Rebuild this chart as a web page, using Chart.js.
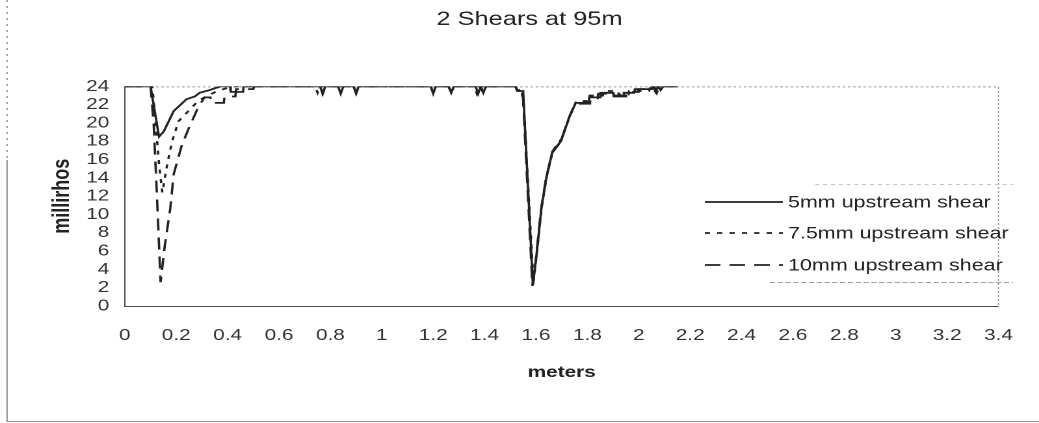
<!DOCTYPE html>
<html>
<head>
<meta charset="utf-8">
<script src="https://cdn.jsdelivr.net/npm/chart.js@4.4.1/dist/chart.umd.min.js"></script>
<style>
  html, body { margin: 0; padding: 0; background: #fff; overflow: hidden; }
  /* the drawing is laid out narrow and stretched sideways, like the printed sheet */
  #wrap { width: 799px; height: 423px; transform: scaleX(1.3004); transform-origin: 0 0; }
</style>
</head>
<body>
<div id="wrap"><canvas id="shearChart" width="799" height="423"></canvas></div>
<script>
const chartTitle = '2 Shears at 95m';
const seriesNames = ['5mm upstream shear', '7.5mm upstream shear', '10mm upstream shear'];

const meterTicks = [0, 0.2, 0.4, 0.6, 0.8, 1, 1.2, 1.4, 1.6, 1.8, 2, 2.2, 2.4, 2.6, 2.8, 3, 3.2, 3.4];
const millirhoTicks = [0, 2, 4, 6, 8, 10, 12, 14, 16, 18, 20, 22, 24];

// 5mm upstream shear
const meters5 = [0, 0.10, 0.115, 0.133, 0.152, 0.19, 0.209, 0.24, 0.272, 0.291, 0.33, 0.372, 0.41, 0.412, 0.46, 0.462,
  0.76, 0.77, 0.78, 0.83, 0.84, 0.85, 0.89, 0.90, 0.91,
  1.19, 1.20, 1.21, 1.26, 1.27, 1.28,
  1.365, 1.375, 1.385, 1.395, 1.405,
  1.52, 1.527, 1.55, 1.588, 1.602, 1.621, 1.64, 1.664, 1.697, 1.729, 1.748, 1.754, 1.805, 1.807, 1.849, 1.851, 1.90, 1.902, 1.94, 1.942, 1.982, 1.985, 2.05, 2.055, 2.065, 2.075, 2.085, 2.095, 2.15];
const millirhos5 = [24, 24, 21.5, 18.5, 19.1, 21.3, 21.8, 22.6, 22.9, 23.3, 23.6, 24, 24, 23.4, 23.4, 24,
  24, 23.2, 24, 24, 23.2, 24, 24, 23.3, 24,
  24, 23.2, 24, 24, 23.3, 24,
  24, 23.2, 24, 23.3, 24,
  24, 23.5, 23.5, 2.3, 5.6, 10.7, 14.0, 16.9, 18.0, 20.6, 21.8, 22.2, 22.2, 22.8, 22.8, 23.3, 23.3, 23.0, 23.0, 23.3, 23.3, 23.7, 23.7, 24, 23.4, 24, 23.6, 24, 24];

// 7.5mm upstream shear
const meters75 = [0, 0.107, 0.12, 0.133, 0.146, 0.165, 0.184, 0.209, 0.247, 0.285, 0.31, 0.36, 0.42,
  0.74, 0.75, 0.76, 0.83, 0.84, 0.85,
  1.19, 1.20, 1.21, 1.36, 1.37, 1.38,
  1.52, 1.53, 1.545, 1.552, 1.59, 1.604, 1.623, 1.642, 1.666, 1.70, 1.732, 1.75, 1.757, 1.80, 1.803, 1.86, 1.862, 1.92, 1.922, 1.96, 1.962, 2.04, 2.045, 2.15];
const millirhos75 = [24, 24, 20, 15.5, 12.4, 15.5, 18.0, 20.2, 21.3, 22.4, 22.8, 23.5, 24,
  24, 23.3, 24, 24, 23.3, 24,
  24, 23.3, 24, 24, 23.2, 24,
  24, 23.3, 23.3, 22, 2.6, 6.0, 11.0, 14.2, 17.0, 18.3, 20.8, 21.9, 22.4, 22.4, 23.0, 23.0, 23.5, 23.5, 23.1, 23.1, 23.5, 23.5, 24, 24];

// 10mm upstream shear
const meters10 = [0, 0.10, 0.112, 0.125, 0.139, 0.155, 0.177, 0.19, 0.222, 0.247, 0.285, 0.31, 0.333, 0.335, 0.385, 0.388, 0.43, 0.433, 0.50, 0.503,
  0.76, 0.77, 0.78, 0.89, 0.90, 0.91,
  1.26, 1.27, 1.28, 1.385, 1.395, 1.405,
  1.52, 1.527, 1.548, 1.586, 1.60, 1.619, 1.638, 1.662, 1.695, 1.727, 1.746, 1.752, 1.81, 1.812, 1.84, 1.842, 1.89, 1.892, 1.95, 1.952, 2.00, 2.002, 2.05, 2.052, 2.06, 2.07, 2.08, 2.15];
const millirhos10 = [24, 24, 20, 12, 2.6, 6.5, 10.7, 14.4, 17.6, 19.3, 21.7, 22.8, 22.8, 22.2, 22.2, 22.9, 22.9, 23.7, 23.7, 24,
  24, 23.2, 24, 24, 23.2, 24,
  24, 23.2, 24, 24, 23.2, 24,
  24, 23.6, 23.6, 2.2, 5.2, 10.4, 13.8, 16.7, 17.9, 20.5, 21.7, 22.1, 22.1, 22.7, 22.7, 23.2, 23.2, 22.9, 22.9, 23.4, 23.4, 23.7, 23.7, 24, 24, 23.3, 24, 24];

function toPoints(xs, ys) {
  return xs.map((x, i) => ({ x: x, y: ys[i] }));
}

const ink = '#222';
const textFont = 'Arial, "Liberation Sans", sans-serif';

// plot frame and the outer sheet edges
const framePlugin = {
  id: 'frame',
  beforeDatasetsDraw(chart) {
    const { ctx, chartArea: a } = chart;
    ctx.save();
    ctx.lineWidth = 1;
    ctx.strokeStyle = '#9a9a9a';
    ctx.setLineDash([2, 2]);
    ctx.beginPath();
    ctx.moveTo(a.left, a.top + 0.5);
    ctx.lineTo(a.right, a.top + 0.5);
    ctx.lineTo(a.right, a.bottom);
    ctx.stroke();
    ctx.setLineDash([]);
    ctx.strokeStyle = '#4a4a4a';
    ctx.beginPath();
    ctx.moveTo(a.left, a.top);
    ctx.lineTo(a.left, a.bottom + 0.5);
    ctx.lineTo(a.right, a.bottom + 0.5);
    ctx.stroke();

    ctx.strokeStyle = '#8a8a8a';
    ctx.setLineDash([2, 4]);
    ctx.beginPath();
    ctx.moveTo(5.4, 0);
    ctx.lineTo(5.4, 160);
    ctx.stroke();
    ctx.setLineDash([]);
    ctx.beginPath();
    ctx.moveTo(5.4, 160);
    ctx.lineTo(5.4, 421.5);
    ctx.lineTo(799, 421.5);
    ctx.stroke();
    ctx.restore();
  }
};

// legend drawn inside the plot, keys taken from the datasets
const keyPlugin = {
  id: 'keyBox',
  afterDraw(chart) {
    const { ctx } = chart;
    const rows = [202, 233, 265];
    ctx.save();
    ctx.lineWidth = 1;
    ctx.strokeStyle = '#c4c4c4';
    ctx.setLineDash([3, 3]);
    ctx.beginPath();
    ctx.moveTo(627, 184.5);
    ctx.lineTo(779, 184.5);
    ctx.stroke();
    ctx.strokeStyle = '#a0a0a0';
    ctx.setLineDash([4, 2]);
    ctx.beginPath();
    ctx.moveTo(592, 282.5);
    ctx.lineTo(779, 282.5);
    ctx.stroke();

    ctx.font = '16.5px ' + textFont;
    ctx.textBaseline = 'middle';
    ctx.fillStyle = '#222';
    chart.data.datasets.forEach((ds, i) => {
      const y = rows[i];
      ctx.strokeStyle = ds.borderColor;
      ctx.lineWidth = ds.borderWidth;
      ctx.setLineDash(ds.borderDash || []);
      ctx.beginPath();
      ctx.moveTo(542, y);
      ctx.lineTo(602, y);
      ctx.stroke();
      ctx.fillText(ds.label, 606, y + 1);
    });
    ctx.restore();
  }
};

new Chart(document.getElementById('shearChart'), {
  type: 'scatter',
  data: {
    datasets: [
      { label: seriesNames[0], data: toPoints(meters5, millirhos5), borderColor: ink, borderWidth: 1.8, borderDash: [] },
      { label: seriesNames[1], data: toPoints(meters75, millirhos75), borderColor: ink, borderWidth: 1.8, borderDash: [4, 5.5] },
      { label: seriesNames[2], data: toPoints(meters10, millirhos10), borderColor: ink, borderWidth: 1.8, borderDash: [12, 7] }
    ]
  },
  options: {
    responsive: false,
    devicePixelRatio: 2,
    animation: false,
    showLine: true,
    elements: {
      point: { radius: 0, hoverRadius: 0 },
      line: { tension: 0, fill: false }
    },
    layout: { padding: { left: 30, right: 14.6, top: 0, bottom: 41 } },
    plugins: {
      legend: { display: false },
      tooltip: { enabled: false },
      title: {
        display: true,
        text: chartTitle,
        color: '#222',
        font: { family: textFont, size: 19.5, weight: 'normal' },
        padding: { top: 8, bottom: 55 }
      }
    },
    scales: {
      x: {
        type: 'linear',
        min: 0,
        max: 3.4,
        afterBuildTicks: s => { s.ticks = meterTicks.map(v => ({ value: v })); },
        afterFit: s => { s.height = 76; },
        grid: { display: false, drawTicks: false },
        border: { display: false },
        ticks: {
          color: '#333',
          font: { family: textFont, size: 16 },
          padding: 20,
          maxRotation: 0,
          autoSkip: false,
          callback: v => String(v)
        },
        title: {
          display: true,
          text: 'meters',
          color: '#222',
          font: { family: textFont, size: 16, weight: 'bold' },
          padding: { top: 0, bottom: 0 }
        }
      },
      y: {
        type: 'linear',
        min: 0,
        max: 24,
        afterBuildTicks: s => { s.ticks = millirhoTicks.map(v => ({ value: v })); },
        afterFit: s => { s.width = 66; },
        grid: { display: false, drawTicks: false },
        border: { display: false },
        ticks: {
          color: '#333',
          font: { family: textFont, size: 16 },
          padding: 12,
          autoSkip: false
        },
        title: {
          display: true,
          text: 'millirhos',
          color: '#222',
          font: { family: textFont, size: 18, weight: 'bold' },
          padding: { top: 7, bottom: 0 }
        }
      }
    }
  },
  plugins: [framePlugin, keyPlugin]
});
</script>
</body>
</html>
